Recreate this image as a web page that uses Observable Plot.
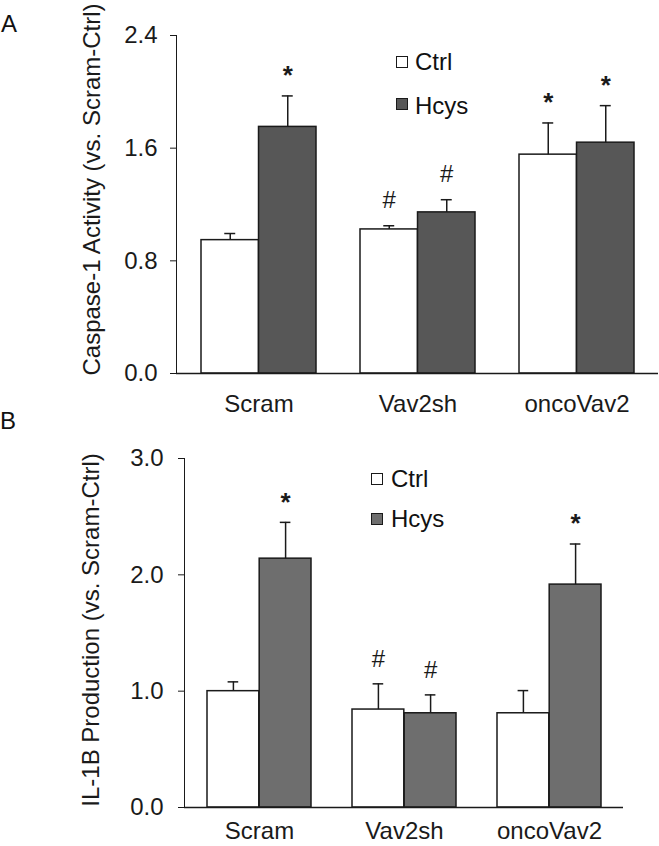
<!DOCTYPE html>
<html>
<head>
<meta charset="utf-8">
<script src="https://cdn.jsdelivr.net/npm/d3@7"></script>
<script src="https://cdn.jsdelivr.net/npm/@observablehq/plot@0.6"></script>
<style>
  html, body { margin: 0; padding: 0; background: #fff; }
  #root { position: relative; width: 659px; height: 846px; overflow: hidden; font-family: "Liberation Sans", Arial, sans-serif; color: #111; }
  .panel { position: absolute; left: 0; }
  .lbl { position: absolute; font-size: 24px; line-height: 24px; white-space: nowrap; }
  .sw { position: absolute; width: 10px; height: 10px; border: 1.5px solid #1a1a1a; }
</style>
</head>
<body>
<div id="root"></div>
<script>
// ---------- data ----------
const groups = ["Scram", "Vav2sh", "oncoVav2"];
const seriesNames = ["Ctrl", "Hcys"];

// Panel A: Caspase-1 activity
const aLabel = "Caspase-1 Activity (vs. Scram-Ctrl)";
const aTicks = [0, 0.8, 1.6, 2.4];
const aCtrl = [0.947, 1.023, 1.554];
const aCtrlErr = [0.047, 0.026, 0.225];
const aHcys = [1.751, 1.144, 1.639];
const aHcysErr = [0.22, 0.09, 0.263];
const aCtrlSig = ["", "#", "*"];
const aHcysSig = ["*", "#", "*"];

// Panel B: IL-1B production
const bLabel = "IL-1B Production (vs. Scram-Ctrl)";
const bTicks = [0, 1, 2, 3];
const bCtrl = [1.0, 0.842, 0.81];
const bCtrlErr = [0.08, 0.221, 0.195];
const bHcys = [2.139, 0.81, 1.916];
const bHcysErr = [0.312, 0.158, 0.349];
const bCtrlSig = ["", "#", ""];
const bHcysSig = ["*", "#", "*"];

const FONT = "'Liberation Sans', Arial, sans-serif";
const INK = "#1a1a1a";

function rowsOf(ctrl, ctrlErr, ctrlSig, hcys, hcysErr, hcysSig) {
  const rows = [];
  groups.forEach((g, i) => {
    rows.push({group: g, series: seriesNames[0], value: ctrl[i], err: ctrlErr[i], sig: ctrlSig[i]});
    rows.push({group: g, series: seriesNames[1], value: hcys[i], err: hcysErr[i], sig: hcysSig[i]});
  });
  return rows;
}

function panel(cfg) {
  const {width, height, mL, mR, mT, mB, pIn, pOut, ticks, rows, label, hcysFill, yPad, xPad, labelDx, labelDy} = cfg;
  const bw = d3.scaleBand().domain(groups).range([mL, width - mR]).paddingInner(pIn).paddingOuter(pOut).bandwidth();
  const off = s => (s === seriesNames[0] ? -bw / 4 : bw / 4);
  const marks = [];
  seriesNames.forEach((s, k) => {
    const d = rows.filter(r => r.series === s);
    marks.push(Plot.barY(d, {
      x: "group", y: "value",
      fill: k === 0 ? "#ffffff" : hcysFill,
      stroke: INK, strokeWidth: 1.5,
      insetLeft: k === 0 ? 0 : bw / 2,
      insetRight: k === 0 ? bw / 2 : 0
    }));
    marks.push(Plot.ruleX(d, {x: "group", y1: "value", y2: r => r.value + r.err, dx: off(s), stroke: INK, strokeWidth: 1.5}));
    marks.push(Plot.tickY(d, {x: "group", y: r => r.value + r.err, dx: off(s), insetLeft: bw / 2 - 5.5, insetRight: bw / 2 - 5.5, stroke: INK, strokeWidth: 1.5}));
    marks.push(Plot.text(d.filter(r => r.sig === "*"), {x: "group", y: r => r.value + r.err, text: "sig", dx: off(s), dy: -20, fontSize: 26, fontWeight: "bold", fill: INK}));
    marks.push(Plot.text(d.filter(r => r.sig === "#"), {x: "group", y: r => r.value + r.err, text: "sig", dx: off(s), dy: -25, fontSize: 24, fill: INK}));
  });
  marks.push(Plot.ruleY([0], {stroke: INK, strokeWidth: 1.5}));
  marks.push(Plot.text([label], {frameAnchor: "left", textAnchor: "middle", lineAnchor: "middle", rotate: -90, dx: labelDx, dy: labelDy, fontSize: 24, fill: INK}));
  return Plot.plot({
    width, height,
    marginLeft: mL, marginRight: mR, marginTop: mT, marginBottom: mB,
    style: {fontFamily: FONT, fontSize: "24px", color: INK, background: "transparent", overflow: "visible"},
    x: {domain: groups, paddingInner: pIn, paddingOuter: pOut, tickSize: 0, tickPadding: xPad, label: null},
    y: {domain: [0, ticks[ticks.length - 1]], ticks: ticks, tickFormat: d3.format(".1f"), tickSize: 6, tickPadding: yPad, line: true, label: null},
    marks
  });
}

const root = document.getElementById("root");

const pa = panel({
  width: 659, height: 420, mL: 176, mR: 1, mT: 35, mB: 47,
  pIn: 0.279, pOut: 0.15, ticks: aTicks, label: aLabel, hcysFill: "#575757",
  rows: rowsOf(aCtrl, aCtrlErr, aCtrlSig, aHcys, aHcysErr, aHcysSig),
  yPad: 13, xPad: 21, labelDx: -84.5, labelDy: -15
});
pa.classList.add("panel"); pa.style.top = "0px";
root.appendChild(pa);

const pb = panel({
  width: 659, height: 426, mL: 184, mR: 36, mT: 38, mB: 39,
  pIn: 0.285, pOut: 0.146, ticks: bTicks, label: bLabel, hcysFill: "#6e6e6e",
  rows: rowsOf(bCtrl, bCtrlErr, bCtrlSig, bHcys, bHcysErr, bHcysSig),
  yPad: 15, xPad: 14, labelDx: -92.8, labelDy: -3
});
pb.classList.add("panel"); pb.style.top = "420px";
root.appendChild(pb);

// panel letters and legends
function addText(txt, left, top) {
  const d = document.createElement("div");
  d.className = "lbl"; d.textContent = txt;
  d.style.left = left + "px"; d.style.top = top + "px";
  root.appendChild(d);
}
function addSwatch(color, left, top) {
  const d = document.createElement("div");
  d.className = "sw"; d.style.background = color;
  d.style.left = left + "px"; d.style.top = top + "px";
  root.appendChild(d);
}
addText("A", 1, 12);
addText("B", 0, 408.6);
addSwatch("#ffffff", 395.7, 55.7);
addText(seriesNames[0], 415, 50.2);
addSwatch("#575757", 395.7, 98.3);
addText(seriesNames[1], 415, 93.6);
addSwatch("#ffffff", 371.3, 473.3);
addText(seriesNames[0], 391, 466.9);
addSwatch("#6e6e6e", 371.3, 512.7);
addText(seriesNames[1], 391, 506.9);
</script>
</body>
</html>
